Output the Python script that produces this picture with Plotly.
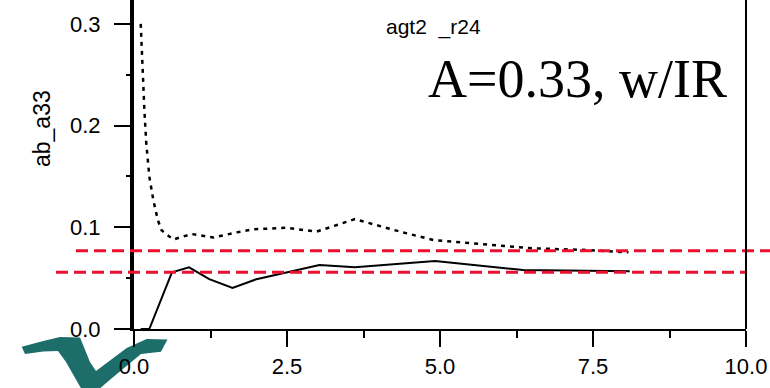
import plotly.graph_objects as go

# ---- data ----
solid_x = [0.11, 0.25, 0.62, 0.90, 1.23, 1.61, 2.00, 3.03, 3.61, 4.92, 6.36, 8.10]
solid_y = [0.0, 0.0, 0.0557, 0.0607, 0.049, 0.0403, 0.049, 0.063, 0.0607, 0.0669, 0.058, 0.0567]

dot_x = [0.11, 0.14, 0.17, 0.20, 0.25, 0.315, 0.39, 0.45, 0.64, 0.94, 1.30, 1.68, 1.95, 2.49, 2.98, 3.61, 4.35, 4.89, 5.71, 6.52, 7.40, 8.08]
dot_y = [0.300, 0.250, 0.215, 0.183, 0.150, 0.127, 0.107, 0.097, 0.088, 0.0934, 0.090, 0.095, 0.098, 0.0996, 0.0957, 0.108, 0.0957, 0.0875, 0.0836, 0.0793, 0.0777, 0.0754]

ref_levels = [0.077, 0.0557]
x_ticks = [0, 2.5, 5, 7.5, 10]
x_ticklabels = ["0.0", "2.5", "5.0", "7.5", "10.0"]
x_minor = [1.25, 3.75, 6.25, 8.75]
y_ticks = [0, 0.1, 0.2, 0.3]
y_ticklabels = ["0.0", "0.1", "0.2", "0.3"]
y_minor = [0.05, 0.15, 0.25]

title_text = "agt2  _r24"
big_text = "A=0.33, w/IR"
y_title = "ab_a33"

X_RANGE = [0, 10]
Y_RANGE = [0, 0.3235]

# ---- layout geometry (pixels) ----
W, H = 770, 388
L, R, T, B = 134, 24, 0, 59
PW, PH = W - L - R, H - T - B


def px(xp):
    return (xp - L) / PW


def py(yp):
    return (H - B - yp) / PH


fig = go.Figure()
fig.add_trace(go.Scatter(x=dot_x, y=dot_y, mode="lines",
                         line=dict(color="black", width=2.5, dash="4px,5px"),
                         showlegend=False, hoverinfo="skip"))
fig.add_trace(go.Scatter(x=solid_x, y=solid_y, mode="lines",
                         line=dict(color="black", width=2),
                         showlegend=False, hoverinfo="skip"))
# invisible trace that carries the minor-tick axes
fig.add_trace(go.Scatter(x=[X_RANGE[0]], y=[Y_RANGE[0]], xaxis="x2", yaxis="y2",
                         mode="markers", marker=dict(opacity=0),
                         showlegend=False, hoverinfo="skip"))

# red dashed reference lines
fig.add_shape(type="line", xref="paper", yref="y", x0=px(76), x1=px(772),
              y0=ref_levels[0], y1=ref_levels[0],
              line=dict(color="#eb1030", width=3, dash="12px,6px"))
fig.add_shape(type="line", xref="paper", yref="y", x0=px(56), x1=1.0,
              y0=ref_levels[1], y1=ref_levels[1],
              line=dict(color="#eb1030", width=3, dash="12px,6px"))

# right border line
fig.add_shape(type="line", xref="paper", yref="paper", x0=1, x1=1, y0=0, y1=1,
              line=dict(color="black", width=2))

# logo (teal swoosh)
logo_pts = [(21.7, 346.7), (43.3, 341.0), (60.0, 337.0), (80.0, 337.5), (90.0, 362.0),
            (96, 371), (126.7, 348), (146.7, 339), (167.5, 339.5), (161, 351.7),
            (141, 354), (112, 378), (98, 390), (82, 390), (66, 362),
            (58, 351), (43.3, 351.5), (25, 354)]
path = "M " + " L ".join(f"{px(a):.4f},{py(b):.4f}" for a, b in logo_pts) + " Z"
fig.add_shape(type="path", xref="paper", yref="paper", path=path,
              fillcolor="#1d6d6a", line=dict(width=0), layer="below")

fig.add_annotation(text=title_text, xref="paper", yref="paper", x=px(433), y=py(27),
                   showarrow=False, xanchor="center", yanchor="middle",
                   font=dict(family="Liberation Sans, Arial", size=21, color="black"))
fig.add_annotation(text=big_text, xref="paper", yref="paper", x=px(577), y=py(79),
                   showarrow=False, xanchor="center", yanchor="middle",
                   font=dict(family="Liberation Serif, Times New Roman", size=54, color="black"))
fig.add_annotation(text=y_title, xref="paper", yref="paper", x=px(42), y=py(129),
                   showarrow=False, xanchor="center", yanchor="middle", textangle=-90,
                   font=dict(family="Liberation Sans, Arial", size=23, color="black"))

tickfont = dict(family="Liberation Sans, Arial", size=22, color="black")

fig.update_layout(
    width=W, height=H,
    margin=dict(l=L, r=R, t=T, b=B, autoexpand=False),
    paper_bgcolor="white", plot_bgcolor="white",
    xaxis=dict(range=X_RANGE, tickmode="array", tickvals=x_ticks, ticktext=x_ticklabels,
               automargin=False, showgrid=False, zeroline=False,
               showline=True, linecolor="black", linewidth=2,
               ticks="outside", ticklen=16, tickwidth=2, tickcolor="black",
               tickfont=tickfont, ticklabelstandoff=1),
    yaxis=dict(range=Y_RANGE, tickmode="array", tickvals=y_ticks, ticktext=y_ticklabels,
               automargin=False, showgrid=False, zeroline=False,
               showline=True, linecolor="black", linewidth=4,
               ticks="outside", ticklen=16, tickwidth=2, tickcolor="black",
               tickfont=tickfont, ticklabelstandoff=9),
    xaxis2=dict(range=X_RANGE, overlaying="x", side="bottom", anchor="y",
                tickmode="array", tickvals=x_minor, showticklabels=False,
                automargin=False, showgrid=False, zeroline=False, showline=False,
                ticks="outside", ticklen=8, tickwidth=2, tickcolor="black"),
    yaxis2=dict(range=Y_RANGE, overlaying="y", side="left", anchor="x",
                tickmode="array", tickvals=y_minor, showticklabels=False,
                automargin=False, showgrid=False, zeroline=False, showline=False,
                ticks="outside", ticklen=7, tickwidth=2, tickcolor="black"),
)

fig.write_html("out.html")
